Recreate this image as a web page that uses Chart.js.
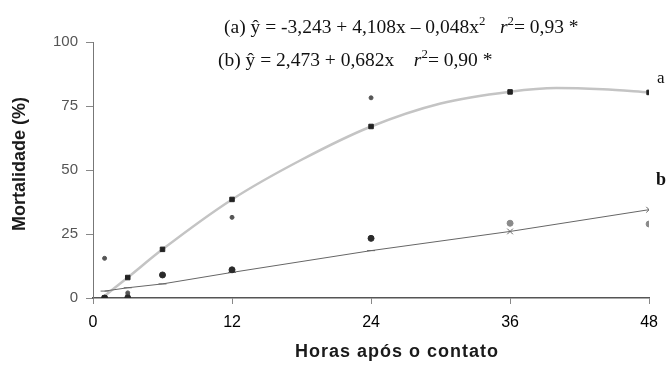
<!DOCTYPE html>
<html>
<head>
<meta charset="utf-8">
<script src="https://cdn.jsdelivr.net/npm/chart.js@4/dist/chart.umd.min.js"></script>
<style>
html,body{margin:0;padding:0;background:#fff;}
#c{display:block;}
</style>
</head>
<body>
<canvas id="c" width="667" height="374"></canvas>
<script>
// ---- data ----
const hours = [1, 3, 6, 12, 24, 36, 48];
const xTicks = [0, 12, 24, 36, 48];
const yTicks = [0, 25, 50, 75, 100];

// observed means, series a (squares)
const obsA = [0, 8, 19, 38.5, 67, 80.5, 80.3];
// observed means, series b (circles)
const obsB = [0, 0, 9, 11, 23.3, 29.2, 28.9];
// other scattered observations
const extraX = [1, 3, 3, 12, 24];
const extraY = [15.5, 1, 2, 31.5, 78.2];

// fitted quadratic curve (a)
const fitAx = [1, 3, 6, 12, 18, 24, 30, 36, 40, 44, 48];
const fitAy = [0.8, 8, 19, 38.5, 54, 67, 76, 80.6, 82, 81.5, 80.3];
// fitted straight line (b), read at each marker
const fitBy = [2.7, 4, 5.5, 10, 18.5, 26, 34.5];

const eqA = "(a) ŷ = -3,243 + 4,108x – 0,048x";
const eqB = "(b) ŷ = 2,473 + 0,682x";

const pts = (xs, ys) => xs.map((x, i) => ({x: x, y: ys[i]}));

const textPlugin = {
  id: 'texts',
  afterDraw(chart) {
    const ctx = chart.ctx;
    ctx.save();
    ctx.fillStyle = '#111';
    ctx.textBaseline = 'alphabetic';
    const serif = '"Liberation Serif", "Times New Roman", serif';
    const fs = 19.5;
    function run(x, y, parts) {
      for (const p of parts) {
        const size = p.sup ? fs * 0.66 : fs;
        ctx.font = (p.it ? 'italic ' : '') + size + 'px ' + serif;
        ctx.fillText(p.t, x, p.sup ? y - fs * 0.4 : y);
        x += ctx.measureText(p.t).width;
      }
    }
    ctx.textAlign = 'left';
    run(224, 33, [{t: eqA}, {t: '2', sup: true}, {t: '   '}, {t: 'r', it: true}, {t: '2', sup: true}, {t: '= 0,93 *'}]);
    run(218, 66, [{t: eqB + '    '}, {t: 'r', it: true}, {t: '2', sup: true}, {t: '= 0,90 *'}]);
    ctx.font = '17px ' + serif;
    ctx.fillText('a', 657, 83);
    ctx.font = 'bold 18px ' + serif;
    ctx.fillText('b', 656, 185);

    // axis titles
    ctx.fillStyle = '#1a1a1a';
    ctx.font = 'bold 18px "Liberation Sans", Arial, sans-serif';
    ctx.textAlign = 'center';
    ctx.textBaseline = 'middle';
    if ('letterSpacing' in ctx) ctx.letterSpacing = '1px';
    ctx.fillText('Horas após o contato', 397, 352);
    if ('letterSpacing' in ctx) ctx.letterSpacing = '0px';
    ctx.translate(20, 164);
    ctx.rotate(-Math.PI / 2);
    ctx.font = 'bold 18px "Liberation Sans", Arial, sans-serif';
    ctx.fillText('Mortalidade (%)', 0, 0);
    ctx.restore();
  }
};

const bStyles = hours.map(h => (h >= 36 ? 'crossRot' : 'line'));
const bColors = obsB.map((v, i) => (hours[i] >= 36 ? '#8a8a8a' : '#2a2a2a'));

new Chart(document.getElementById('c'), {
  type: 'scatter',
  data: {
    datasets: [
      {
        type: 'line', label: 'fit a', data: pts(fitAx, fitAy),
        borderColor: '#c4c4c4', borderWidth: 2.5, pointRadius: 0,
        cubicInterpolationMode: 'monotone', fill: false, order: 5
      },
      {
        type: 'line', label: 'fit b', data: pts(hours, fitBy),
        borderColor: '#666', borderWidth: 1, tension: 0,
        pointStyle: bStyles, pointRadius: 4, pointBorderColor: '#666',
        pointBorderWidth: 1, pointBackgroundColor: '#666', fill: false, order: 4
      },
      {
        label: 'extra', data: pts(extraX, extraY),
        pointStyle: 'circle', pointRadius: 2, backgroundColor: '#555', borderColor: '#555', order: 3
      },
      {
        label: 'obs b', data: pts(hours, obsB),
        pointStyle: 'circle', pointRadius: 3, backgroundColor: bColors, borderColor: bColors, order: 2
      },
      {
        label: 'obs a', data: pts(hours, obsA),
        pointStyle: 'rect', pointRadius: 3.2, backgroundColor: '#222', borderColor: '#222', order: 1
      }
    ]
  },
  options: {
    responsive: false,
    animation: false,
    events: [],
    layout: {padding: {left: 0, right: 14, top: 42, bottom: 0}},
    plugins: {legend: {display: false}, tooltip: {enabled: false}},
    scales: {
      x: {
        type: 'linear', min: 0, max: 48,
        afterBuildTicks: s => { s.ticks = xTicks.map(v => ({value: v})); },
        afterFit: s => { s.height = 76; },
        grid: {display: true, drawOnChartArea: false, drawTicks: true, tickLength: 6, color: '#888'},
        border: {display: true, color: '#555', width: 1.5},
        ticks: {color: '#000', padding: 9, font: {family: '"Liberation Sans", Arial, sans-serif', size: 16}}
      },
      y: {
        type: 'linear', min: 0, max: 100,
        afterBuildTicks: s => { s.ticks = yTicks.map(v => ({value: v})); },
        afterFit: s => { s.width = 93; },
        grid: {display: true, drawOnChartArea: false, drawTicks: true, tickLength: 7, color: '#888'},
        border: {display: true, color: '#777', width: 1},
        ticks: {color: '#555', padding: 8, font: {family: '"Liberation Sans", Arial, sans-serif', size: 15}}
      }
    }
  },
  plugins: [textPlugin]
});
</script>
</body>
</html>
